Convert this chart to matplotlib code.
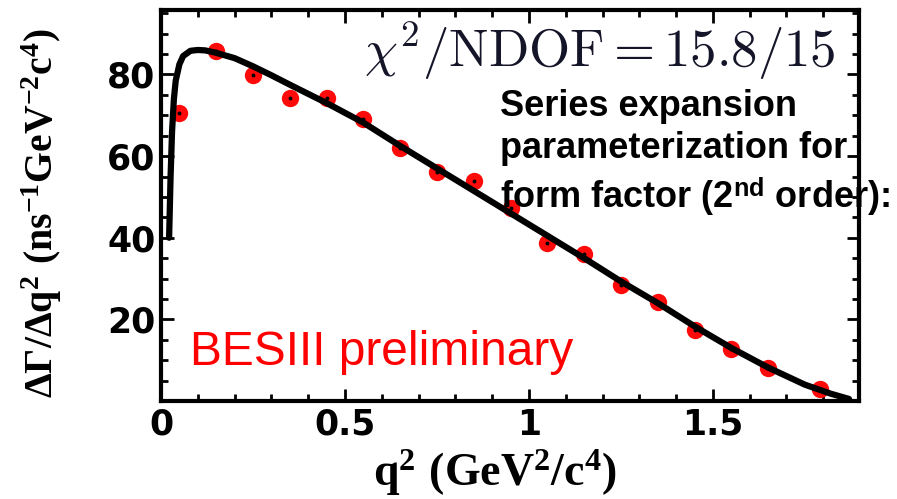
import matplotlib
matplotlib.use("Agg")
import matplotlib.pyplot as plt
from matplotlib.ticker import MultipleLocator

# Data points (bin centres, values)
q2_data = [0.05, 0.15, 0.25, 0.35, 0.45, 0.55, 0.65, 0.75, 0.85, 0.95,
           1.05, 1.15, 1.25, 1.35, 1.45, 1.55, 1.65, 1.79]
rate_data = [70.5, 85.8, 79.9, 74.3, 74.3, 69.0, 62.0, 56.0, 54.0, 47.3,
             38.7, 36.0, 28.4, 24.3, 17.4, 12.8, 8.1, 2.9]

# Fit curve
q2_fit = [0.022, 0.026, 0.03, 0.035, 0.04, 0.05, 0.06, 0.08, 0.10, 0.12,
          0.15, 0.20, 0.25, 0.30, 0.35, 0.45, 0.55, 0.65, 0.75, 0.85, 0.95, 1.05,
          1.15, 1.25, 1.35, 1.45, 1.55, 1.65, 1.75, 1.82, 1.87]
rate_fit = [40.0, 55.0, 66.0, 74.0, 78.5, 82.5, 84.5, 85.8, 86.0, 85.9,
            85.3, 84.0, 82.0, 79.8, 77.5, 73.0, 68.2, 62.5, 57.0, 51.5, 46.0, 40.5,
            35.0, 29.3, 24.0, 18.3, 13.0, 8.2, 4.0, 1.8, 0.5]

xticks = [0, 0.5, 1, 1.5]
xticklabels = ["0", "0.5", "1", "1.5"]
yticks = [20, 40, 60, 80]
yticklabels = ["20", "40", "60", "80"]

plt.rcParams["mathtext.fontset"] = "custom"
plt.rcParams["mathtext.rm"] = "Liberation Serif:bold"
plt.rcParams["mathtext.bf"] = "Liberation Serif:bold"
plt.rcParams["mathtext.it"] = "Liberation Serif:bold"

fig = plt.figure(figsize=(8.97, 4.99), dpi=100)
ax = fig.add_axes([0.1795, 0.1964, 0.9576 - 0.1795, 0.98 - 0.1964])

ax.plot(q2_fit, rate_fit, color="black", lw=4.5, zorder=3, solid_capstyle="round")
ax.plot(q2_data, rate_data, "o", color="#ff0a0a", ms=12.5, mec="none", zorder=2)
ax.plot(q2_data, rate_data, "o", color="black", ms=1.8, zorder=2.5)

ax.set_xlim(0, 1.897)
ax.set_ylim(0, 95.8)

ax.set_xticks(xticks)
ax.set_xticklabels(xticklabels)
ax.set_yticks(yticks)
ax.set_yticklabels(yticklabels)
ax.xaxis.set_minor_locator(MultipleLocator(0.1))
ax.yaxis.set_minor_locator(MultipleLocator(5))

ax.tick_params(which="both", direction="in", top=True, right=True, width=2, color="black")
ax.tick_params(which="major", length=9)
ax.tick_params(which="minor", length=5)
ax.tick_params(axis="x", which="major", pad=5)
ax.tick_params(axis="y", which="major", pad=4)
for lab in ax.get_xticklabels() + ax.get_yticklabels():
    lab.set_fontfamily("DejaVu Sans")
    lab.set_fontweight("bold")
    lab.set_fontsize(25)

for sp in ax.spines.values():
    sp.set_linewidth(3)

fig.text(0.047, 0.573, r"$\mathbf{\Delta\Gamma/\Delta q^{2}\ (ns^{-1}GeV^{-2}c^{4})}$",
         rotation=90, ha="center", va="center", fontsize=28.5, color="black")
fig.text(0.552, 0.026, r"$\mathbf{q^{2}\ (GeV^{2}/c^{4})}$",
         ha="center", va="baseline", fontsize=33, color="black")

ax.text(0.966, 0.854, r"$\chi^2/\mathrm{NDOF} = 15.8/15$", transform=ax.transAxes,
        ha="right", va="baseline", fontsize=38, color="#15152a", math_fontfamily="cm")

fig.text(0.557, 0.822, "Series expansion\nparameterization for\nform factor (2$^{\\mathregular{nd}}$ order):",
         ha="left", va="top", fontsize=26, fontweight="bold", family="Liberation Sans",
         linespacing=1.27, color="black")

ax.text(0.0415, 0.092, "BESIII preliminary", transform=ax.transAxes,
        ha="left", va="baseline", fontsize=34.5, color="#ff0000", family="Liberation Sans")

fig.savefig("out.png", dpi=100)
